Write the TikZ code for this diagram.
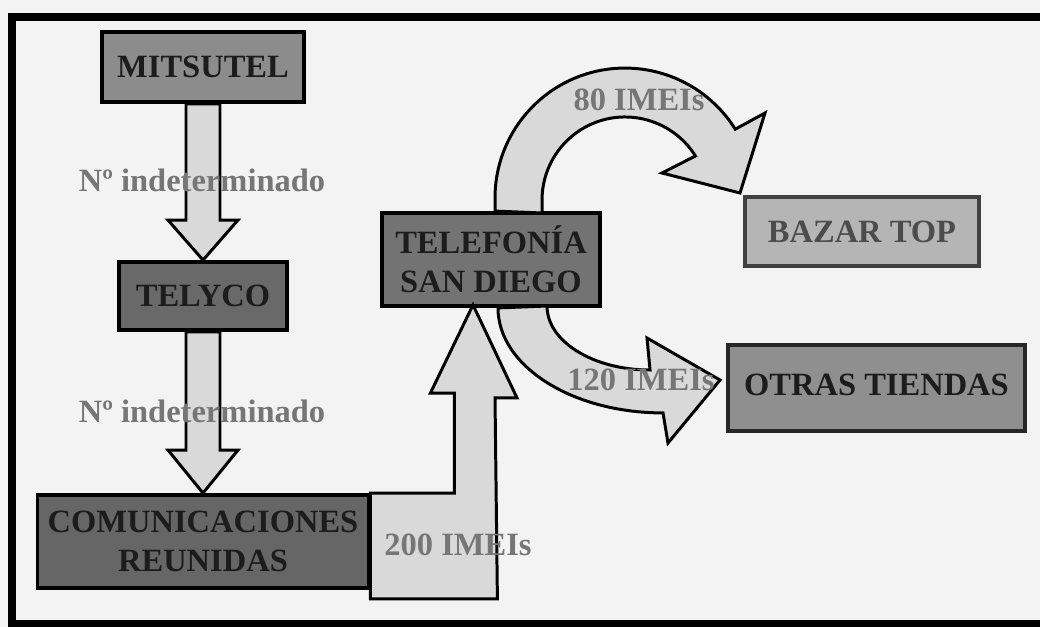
\documentclass[tikz,border=0pt]{standalone}
\usepackage{fontspec}
\setmainfont{Liberation Serif}
\usetikzlibrary{calc}
\definecolor{bggray}{HTML}{F3F3F3}
\definecolor{flowgray}{HTML}{D9D9D9}
\definecolor{boxtext}{HTML}{1C1C1C}
\definecolor{lblgray}{HTML}{767676}
\begin{document}
\begin{tikzpicture}[x=0.02cm,y=0.02cm,
    box/.style={draw=black,line width=2.2pt,inner sep=0pt,align=center,
      font=\bfseries\fontsize{18.5}{22}\selectfont,text=boxtext},
    flow/.style={draw=black,line width=1.7pt,fill=flowgray,line join=miter},
    lbl/.style={font=\bfseries\fontsize{18.5}{22}\selectfont,text=lblgray}]
  \useasboundingbox (0,0) rectangle (1040,626);
  \fill[bggray] (-20,-20) rectangle (1060,646);
  % frame, its right side lies outside the picture
  \draw[line width=4pt] (1060,609) -- (12,609) -- (12,2) -- (1060,2);

  % companies
  \node[box,fill=black!45,minimum width=4.04cm,minimum height=1.4cm] (mitsutel) at (203,559) {MITSUTEL};
  \node[box,fill=black!59,minimum width=3.36cm,minimum height=1.36cm] (telyco) at (203,330) {TELYCO};
  \node[box,fill=black!60,minimum width=6.62cm,minimum height=1.86cm] (comun) at (203,84.5) {COMUNICACIONES\\REUNIDAS};
  \node[box,fill=black!55,minimum width=4.36cm,minimum height=1.86cm] (tel) at (491,366.5) {TELEFONÍA\\SAN DIEGO};
  \node[box,draw=black!75,fill=black!29,text=black!70,minimum width=4.68cm,minimum height=1.38cm] (bazar) at (862,394.5) {BAZAR TOP};
  \node[box,draw=black!85,fill=black!44,minimum width=5.94cm,minimum height=1.72cm] (otras) at (876.5,238) {\raisebox{4pt}{OTRAS TIENDAS}};

  % straight flows
  \draw[flow] ($(mitsutel.south)+(-17,0)$) -- ($(telyco.north)+(-17,40)$) -- ++(-18,0)
    -- (telyco.north) -- ++(35,40) -- ++(-18,0) -- ($(mitsutel.south)+(17,0)$) -- cycle;
  \draw[flow] ($(telyco.south)+(-17,0)$) -- ($(comun.north)+(-17,43)$) -- ++(-18,0)
    -- (comun.north) -- ++(35,43) -- ++(-18,0) -- ($(telyco.south)+(17,0)$) -- cycle;
  \draw[flow] (comun.north east) -- ++(84,0) -- ++(0,100) -- ++(-24,0)
    -- ($(tel.south)+(-18,3)$) -- ++(44,-93) -- ++(-22,0)
    -- ($(comun.south east)+(127,-9)$) -- ($(comun.south east)+(0,-9)$) -- cycle;

  % curved flows
  \draw[flow] ($(tel.north)+(4,0)$) -- ++(0,13) arc[start angle=180,end angle=32,radius=130]
    -- (765,513) -- (740,433) -- (662,453) -- (695.4,470)
    arc[start angle=32,end angle=180,radius=83] -- ++(0,-13) -- cycle;
  \draw[flow] ($(tel.south)+(7,0)$) arc[start angle=180,end angle=270,x radius=165,y radius=105]
    -- (668,183) -- (720,246) -- (647,288) -- (650,256)
    arc[start angle=270,end angle=180,x radius=103,y radius=64] -- cycle;

  % quantities
  \node[lbl] (qtyA) at (202,446) {Nº indeterminado};
  \node[lbl] (qtyB) at (202,215) {Nº indeterminado};
  \node[lbl] (qty80) at (639,526) {80 IMEIs};
  \node[lbl] (qty120) at (641,246) {120 IMEIs};
  \node[lbl] (qty200) at (458,81) {200 IMEIs};
\end{tikzpicture}
\end{document}
